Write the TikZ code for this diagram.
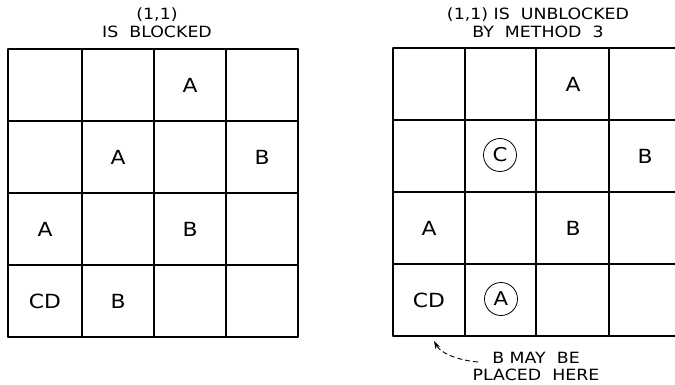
\documentclass[tikz,border=0pt]{standalone}
\usepackage{fontspec}
\setmainfont[FakeStretch=1.12]{DejaVu Sans}
\usetikzlibrary{arrows.meta}
\begin{document}
\begin{tikzpicture}[x=1pt,y=-1pt,
  gridline/.style={line width=1.1pt,line cap=round},
  celltxt/.style={font=\fontsize{19.5}{20}\selectfont,inner sep=0pt},
  circtxt/.style={font=\fontsize{19}{19}\selectfont,circle,draw,line width=0.8pt,minimum size=33pt,inner sep=0pt},
  titletxt/.style={font=\fontsize{15.5}{17}\selectfont,inner sep=0pt,align=center}
]
\useasboundingbox (0,0) rectangle (675,385);
\clip (0,0) rectangle (675,385);
% left grid
\foreach \x in {8,82,154,226,298} \draw[gridline] (\x,49) -- (\x,337);
\foreach \y in {49,121,193,265,337} \draw[gridline] (8,\y) -- (298,\y);
% right grid
\foreach \x in {393,465,536,609,681} \draw[gridline] (\x,48) -- (\x,336);
\foreach \y in {48,120,192,264,336} \draw[gridline] (393,\y) -- (681,\y);
% titles
\node[titletxt] (tl1) at (157,15) {(1,1)};
\node[titletxt] (tl2) at (157,32) {IS\ \ BLOCKED};
\node[titletxt] (tr1) at (538,15) {(1,1)\ IS\ \ UNBLOCKED};
\node[titletxt] (tr2) at (538,32) {BY\ \ METHOD\ \ 3};
% left grid letters
\node[celltxt] (l13) at (190,85) {A};
\node[celltxt] (l22) at (118,157) {A};
\node[celltxt] (l24) at (262,157) {B};
\node[celltxt] (l31) at (45,229) {A};
\node[celltxt] (l33) at (190,229) {B};
\node[celltxt] (l41) at (45,301) {CD};
\node[celltxt] (l42) at (118,301) {B};
% right grid letters
\node[celltxt] (r13) at (573,84) {A};
\node[circtxt] (r22) at (500,155) {C};
\node[celltxt] (r24) at (645,156) {B};
\node[celltxt] (r31) at (429,228) {A};
\node[celltxt] (r33) at (573,228) {B};
\node[celltxt] (r41) at (429,300) {CD};
\node[circtxt] (r42) at (501,299) {A};
% note
\node[titletxt] (note) at (536,366) {B\ MAY\ \ BE\\PLACED\ \ HERE};
\coordinate (tip) at (434,341);
\draw[line width=0.9pt,dash pattern=on 5pt off 3pt,-{Stealth[length=8pt,width=5pt]}] (478,362) .. controls (455,360) and (440,352) .. (tip);
\end{tikzpicture}
\end{document}
